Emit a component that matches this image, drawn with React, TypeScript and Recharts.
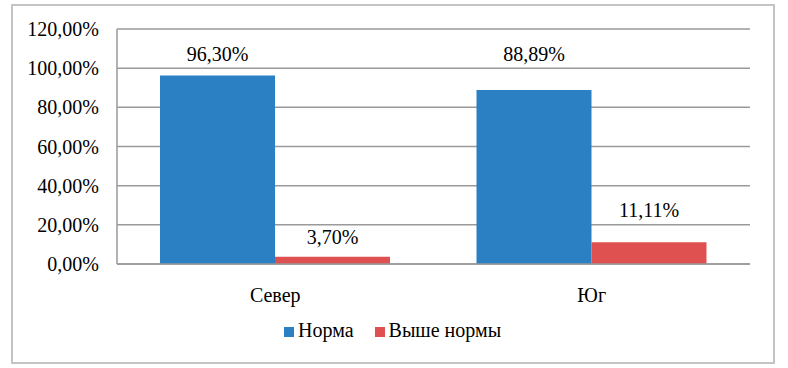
import React from "react";
import { BarChart, Bar, XAxis, YAxis, CartesianGrid, Legend, LabelList } from "recharts";

const categories = ["Север", "Юг"];
const normaValues = [0.963, 0.8889];
const aboveValues = [0.037, 0.1111];
const yTicks = [0, 0.2, 0.4, 0.6, 0.8, 1.0, 1.2];
const seriesNames = ["Норма", "Выше нормы"];

const BLUE = "#2A80C2";
const RED = "#DF5151";
const FONT = "'Liberation Serif', 'Times New Roman', Times, 'Noto Serif', 'DejaVu Serif', FreeSerif, serif";

// label offsets above bar tops (Excel-like manual placement)
const normaLabelOffsets = [14, 29];
const aboveLabelOffsets = [13, 25];

const data = categories.map((c, i) => ({
  name: c,
  norma: normaValues[i],
  above: aboveValues[i],
}));

const fmt = (v: number) => (v * 100).toFixed(2).replace(".", ",") + "%";

const makeLabel = (offsets: number[]) => (props: any) => {
  const { x, y, width, value, index } = props;
  return (
    <text
      x={Number(x) + Number(width) / 2}
      y={Number(y) - offsets[index]}
      textAnchor="middle"
      style={{ fontFamily: FONT, fontSize: 20 }}
      fill="#000"
    >
      {fmt(value)}
    </text>
  );
};

export default function App() {
  return (
    <div style={{ position: "absolute", left: 0, top: 0, width: 788, height: 368, background: "#fff", fontFamily: FONT }}>
      <div
        style={{
          position: "absolute",
          left: 11,
          top: 4,
          width: 760,
          height: 356,
          border: "2px solid #c4c4c4",
          boxSizing: "content-box",
        }}
      />
      <div style={{ position: "absolute", left: 0, top: 0 }}>
        <BarChart
          width={788}
          height={368}
          data={data}
          margin={{ top: 29, right: 38, bottom: 0, left: 0 }}
          barCategoryGap={43}
          barGap={0}
          style={{ fontFamily: FONT }}
        >
          <CartesianGrid vertical={false} stroke="#9a9a9a" strokeWidth={1.5} />
          <XAxis
            dataKey="name"
            axisLine={{ stroke: "#9a9a9a", strokeWidth: 1.5 }}
            tickLine={false}
            tickSize={0}
            tickMargin={24}
            height={60}
            tick={{ fontSize: 20, fill: "#000", style: { fontFamily: FONT } }}
          />
          <YAxis
            width={117}
            domain={[0, 1.2]}
            ticks={yTicks}
            interval={0}
            tickFormatter={fmt}
            axisLine={{ stroke: "#9a9a9a", strokeWidth: 1.5 }}
            tickLine={false}
            tickSize={0}
            tickMargin={18}
            tick={{ fontSize: 20, fill: "#000", style: { fontFamily: FONT } }}
          />
          <Legend
            verticalAlign="bottom"
            align="left"
            height={44}
            iconType="square"
            iconSize={10}
            itemSorter={(item: any) => seriesNames.indexOf(item.value)}
            wrapperStyle={{ fontFamily: FONT, fontSize: 20, color: "#000", top: 319, left: 284, width: "auto" }}
            formatter={(v: string, _e: any, i: number) => (
              <span style={{ color: "#000", fontFamily: FONT, marginRight: i === 0 ? 11 : 0 }}>{v}</span>
            )}
          />
          <Bar dataKey="norma" name={seriesNames[0]} fill={BLUE} isAnimationActive={false}>
            <LabelList dataKey="norma" content={makeLabel(normaLabelOffsets)} />
          </Bar>
          <Bar dataKey="above" name={seriesNames[1]} fill={RED} isAnimationActive={false}>
            <LabelList dataKey="above" content={makeLabel(aboveLabelOffsets)} />
          </Bar>
        </BarChart>
      </div>
    </div>
  );
}
